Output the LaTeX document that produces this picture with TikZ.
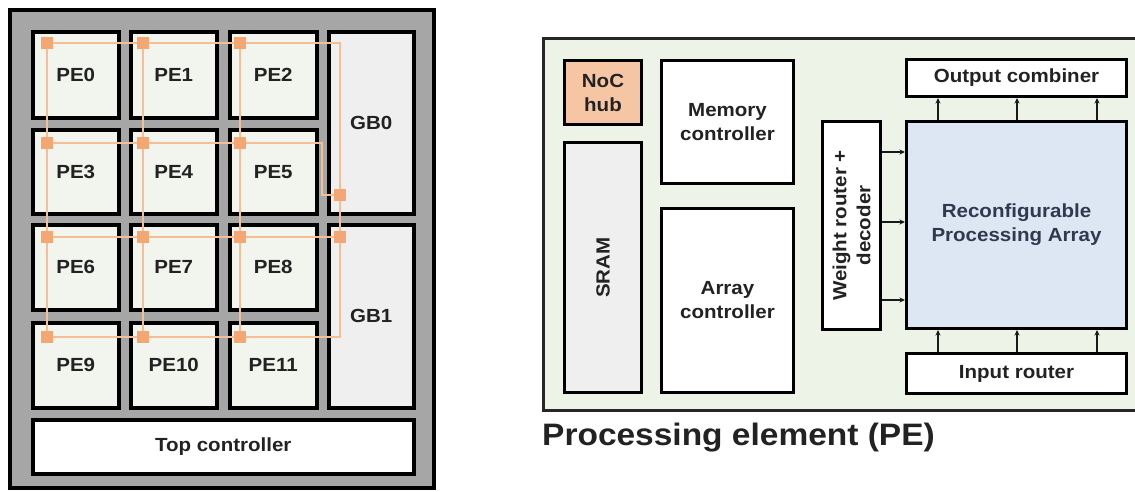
\documentclass[tikz,border=0pt]{standalone}
\usepackage{fontspec}
\setmainfont{Liberation Sans}[FakeStretch=1.08]
\usetikzlibrary{arrows.meta}
\definecolor{chipgray}{HTML}{A6A6A6}
\definecolor{pefill}{HTML}{F1F5EE}
\definecolor{gbfill}{HTML}{EFEFEF}
\definecolor{panelfill}{HTML}{EEF3E8}
\definecolor{nocfill}{HTML}{F6C6A4}
\definecolor{rpafill}{HTML}{DDE7F3}
\definecolor{netline}{HTML}{F5BE96}
\definecolor{netsq}{HTML}{F4A772}
\definecolor{txt}{HTML}{222222}
\definecolor{rpatxt}{HTML}{2E3A4E}
\pgfdeclarelayer{top}
\pgfsetlayers{main,top}
\tikzset{
  lbl/.style={font=\bfseries\fontsize{19}{24}\selectfont, text=txt, align=center},
  blk/.style={draw=black, line width=3.5pt, anchor=north west, inner sep=0pt, lbl},
  pebox/.style={blk, fill=pefill},
  inbox/.style={draw=black, line width=3pt, anchor=north west, inner sep=0pt, fill=white, lbl},
  hubsq/.style={rectangle, fill=netsq, minimum size=12pt, inner sep=0pt},
  net/.style={draw=netline, line width=2.2pt},
  arr/.style={draw=black!90, line width=1.8pt, -{Stealth[length=5.5pt,width=5pt]}},
}
\begin{document}
\begin{tikzpicture}[x=1pt,y=-1pt]
\useasboundingbox (0,0) rectangle (1135,491);
\fill[white] (0,0) rectangle (1135,491);
% ---------------- chip ----------------
\draw[line width=3.5pt, fill=chipgray] (10,10) rectangle (434,488);
\node[pebox, minimum width=86pt, minimum height=86pt] (pe0) at (31,30) {PE0};
\node[pebox, minimum width=86pt, minimum height=86pt] (pe1) at (129,30) {PE1};
\node[pebox, minimum width=87pt, minimum height=86pt] (pe2) at (228,30) {PE2};
\node[pebox, minimum width=86pt, minimum height=84pt] (pe3) at (31,128) {PE3};
\node[pebox, minimum width=86pt, minimum height=84pt] (pe4) at (129,128) {PE4};
\node[pebox, minimum width=87pt, minimum height=84pt] (pe5) at (228,128) {PE5};
\node[pebox, minimum width=86pt, minimum height=85pt] (pe6) at (31,223) {PE6};
\node[pebox, minimum width=86pt, minimum height=85pt] (pe7) at (129,223) {PE7};
\node[pebox, minimum width=87pt, minimum height=85pt] (pe8) at (228,223) {PE8};
\node[pebox, minimum width=86pt, minimum height=85pt] (pe9) at (31,321) {PE9};
\node[pebox, minimum width=86pt, minimum height=85pt] (pe10) at (129,321) {PE10};
\node[pebox, minimum width=87pt, minimum height=85pt] (pe11) at (228,321) {PE11};
\node[blk, fill=gbfill, minimum width=85pt, minimum height=182pt] (gb0) at (327,30) {GB0};
\node[blk, fill=gbfill, minimum width=85pt, minimum height=183pt] (gb1) at (327,223) {GB1};
\node[blk, fill=white, minimum width=381pt, minimum height=54pt] (topc) at (31,418) {Top controller};
% network hubs
\begin{pgfonlayer}{top}
\node[hubsq] (h00) at (47,43) {};
\node[hubsq] (h01) at (143,43) {};
\node[hubsq] (h02) at (240,43) {};
\node[hubsq] (h10) at (47,143) {};
\node[hubsq] (h11) at (143,143) {};
\node[hubsq] (h12) at (240,143) {};
\node[hubsq] (h20) at (47,237) {};
\node[hubsq] (h21) at (143,237) {};
\node[hubsq] (h22) at (240,237) {};
\node[hubsq] (h30) at (47,337) {};
\node[hubsq] (h31) at (143,337) {};
\node[hubsq] (h32) at (240,337) {};
\node[hubsq] (hg0) at (340,195) {};
\node[hubsq] (hg1) at (340,237) {};
\end{pgfonlayer}
\coordinate (c0) at (340,43);
\coordinate (c1a) at (322,143);
\coordinate (c1b) at (322,195);
\coordinate (c3) at (340,337);
\path[net] (h00.center) -- (h01.center) -- (h02.center) -- (c0) -- (hg0.center);
\path[net] (h10.center) -- (h11.center) -- (h12.center) -- (c1a) -- (c1b) -- (hg0.center);
\path[net] (h20.center) -- (h21.center) -- (h22.center) -- (hg1.center);
\path[net] (h30.center) -- (h31.center) -- (h32.center) -- (c3) -- (hg1.center) -- (hg0.center);
\path[net] (h00.center) -- (h10.center) -- (h20.center) -- (h30.center);
\path[net] (h01.center) -- (h11.center) -- (h21.center) -- (h31.center);
\path[net] (h02.center) -- (h12.center) -- (h22.center) -- (h32.center);
% ---------------- processing element ----------------
\fill[panelfill] (543,38) rectangle (1135,410);
\draw[line width=3pt, draw=black!85] (1136,38) -- (543,38) -- (543,410) -- (1136,410);
\node[inbox, fill=nocfill, minimum width=77pt, minimum height=64pt] (noc) at (563,59) {NoC\\hub};
\node[inbox, fill=gbfill, minimum width=77pt, minimum height=250pt] (sram) at (563,141) {};
\node[lbl, rotate=90] (sramt) at (sram.center) {SRAM};
\node[inbox, minimum width=132pt, minimum height=123pt] (memc) at (660,59) {Memory\\controller};
\node[inbox, minimum width=132pt, minimum height=184pt] (arrc) at (660,207) {Array\\controller};
\node[inbox, minimum width=58pt, minimum height=208pt] (wr) at (821,120) {};
\node[lbl, rotate=90] (wrt) at (wr.center) {Weight router +\\decoder};
\node[inbox, fill=rpafill, minimum width=220pt, minimum height=207pt, text=rpatxt] (rpa) at (905,120) {Reconfigurable\\Processing Array};
\node[inbox, minimum width=220pt, minimum height=37pt] (oc) at (905,58) {Output combiner};
\node[inbox, minimum width=220pt, minimum height=40pt] (ir) at (905,352) {Input router};
% arrows
\foreach \yy in {152,222,300}{
  \draw[arr] (wr.east |- 0,\yy) -- (rpa.west |- 0,\yy);
}
\foreach \xx in {938,1017,1097}{
  \draw[arr] (rpa.north -| \xx,0) -- (oc.south -| \xx,0);
  \draw[arr] (ir.north -| \xx,0) -- (rpa.south -| \xx,0);
}
\node[anchor=base west, inner sep=0pt, font=\bfseries\fontsize{31}{36}\selectfont, text=txt] (cap) at (542,445) {Processing element (PE)};
\end{tikzpicture}
\end{document}
